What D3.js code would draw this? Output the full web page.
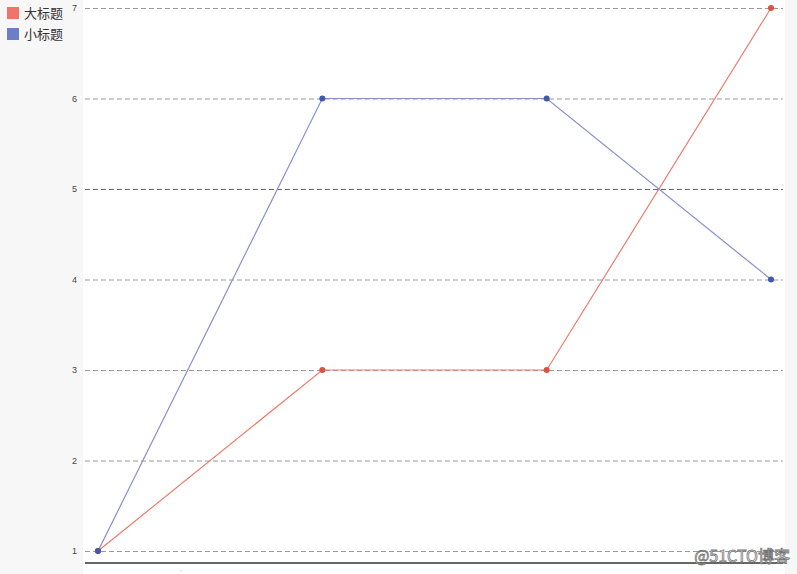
<!DOCTYPE html>
<html>
<head>
<meta charset="utf-8">
<script src="https://cdn.jsdelivr.net/npm/d3@7"></script>
<style>
  html, body { margin: 0; padding: 0; background: #f7f7f7; overflow: hidden; }
  svg { display: block; }
</style>
</head>
<body>
<svg></svg>
<script>
const categories = ["A", "B", "C", "D"];
const bigValues = [1, 3, 3, 7];
const smallValues = [1, 6, 6, 4];
const seriesNames = ["大标题", "小标题"];
const yTicks = [1, 2, 3, 4, 5, 6, 7];

const svgWidth = 797, svgHeight = 574;
const lineColors = ["#ef7b6b", "#8590cf"];
const dotColors = ["#d9533f", "#3f5ba8"];
const legendColors = ["#f07469", "#6e7ec4"];

const svg = d3.select('svg')
  .attr('width', svgWidth)
  .attr('height', svgHeight);

// white plot panel
svg.append('rect')
  .attr('x', 83).attr('y', 0)
  .attr('width', 702).attr('height', svgHeight)
  .attr('fill', '#ffffff');

const x = d3.scalePoint().domain(categories).range([98, 771]);
const y = d3.scaleLinear().domain([1, 7]).range([551, 8]);

// gridlines + labels
const yAxis = d3.axisLeft(y)
  .tickValues(yTicks)
  .tickFormat(d3.format('d'))
  .tickSize(-698)
  .tickPadding(8);

const gy = svg.append('g')
  .attr('transform', 'translate(85,0)')
  .call(yAxis);
gy.select('.domain').remove();
gy.selectAll('.tick line')
  .attr('stroke', d => d === 5 ? '#666' : '#999')
  .attr('stroke-width', 1)
  .attr('stroke-dasharray', '5,3');
gy.selectAll('.tick text')
  .attr('fill', '#444')
  .attr('font-size', 9)
  .attr('font-family', 'Arial, "Liberation Sans", sans-serif');

// bottom axis line
const xAxis = d3.axisBottom(x).tickSize(0).tickFormat('');
const gx = svg.append('g')
  .attr('transform', 'translate(0,563)')
  .call(xAxis);
gx.select('.domain')
  .attr('d', 'M85,0H783')
  .attr('stroke', '#666')
  .attr('stroke-width', 2);

// tiny mark near the bottom edge, as in the reference
svg.append('text')
  .attr('x', 181).attr('y', 574)
  .attr('font-size', 6)
  .attr('fill', '#888')
  .attr('text-anchor', 'middle')
  .text('\'');

const series = [bigValues, smallValues];
const line = d3.line()
  .x((d, i) => x(categories[i]))
  .y(d => y(d));

series.forEach(function(vals, s) {
  svg.append('path')
    .datum(vals)
    .attr('d', line)
    .attr('fill', 'none')
    .attr('stroke', lineColors[s])
    .attr('stroke-width', 1.2);
});
series.forEach(function(vals, s) {
  svg.selectAll('.dot' + s)
    .data(vals)
    .enter()
    .append('circle')
    .attr('class', 'dot' + s)
    .attr('cx', (d, i) => x(categories[i]))
    .attr('cy', d => y(d))
    .attr('r', 3)
    .attr('fill', dotColors[s]);
});

// legend
const legend = svg.selectAll('.legend')
  .data(seriesNames)
  .enter()
  .append('g')
  .attr('class', 'legend')
  .attr('transform', (d, i) => 'translate(7,' + (7 + i * 21) + ')');
legend.append('rect')
  .attr('width', 12).attr('height', 12)
  .attr('fill', (d, i) => legendColors[i]);
legend.append('text')
  .attr('x', 17).attr('y', 11)
  .attr('font-size', 13)
  .attr('fill', '#333')
  .attr('font-family', '"Noto Sans CJK SC", sans-serif')
  .text(d => d);

// watermark
svg.append('text')
  .attr('x', 790).attr('y', 562)
  .attr('text-anchor', 'end')
  .attr('font-size', 16)
  .attr('fill', '#fff')
  .attr('stroke', '#777')
  .attr('stroke-width', 0.8)
  .attr('font-family', '"Noto Sans CJK SC", sans-serif')
  .text('@51CTO博客');
</script>
</body>
</html>
